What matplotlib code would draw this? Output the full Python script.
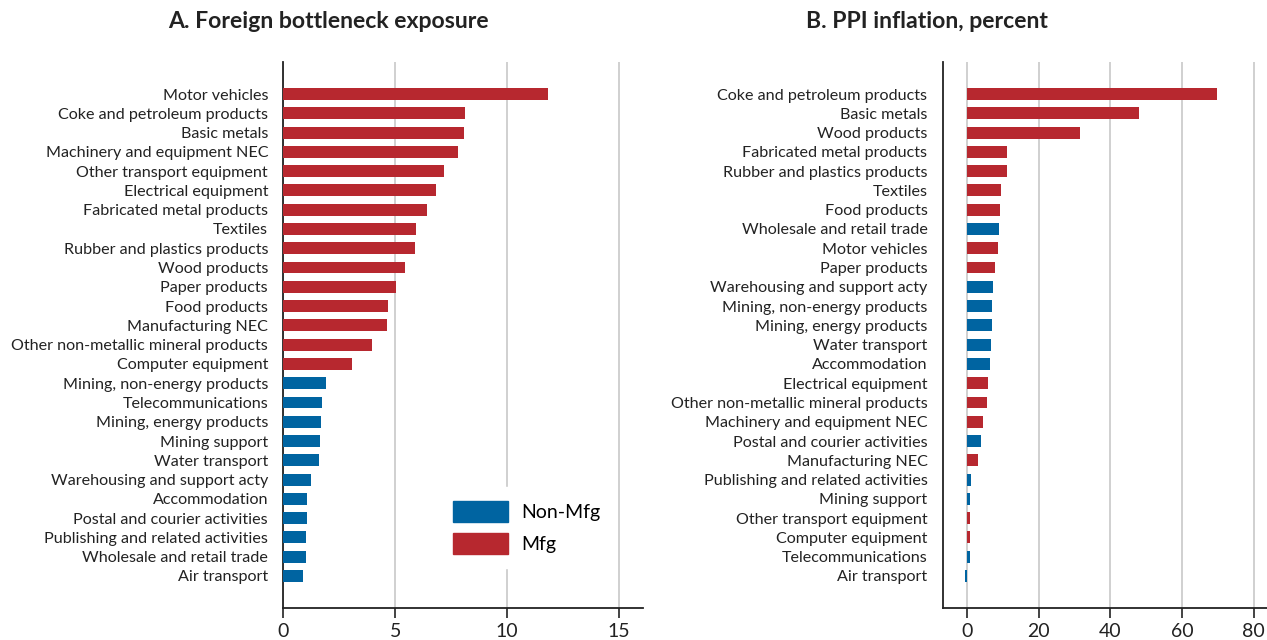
import numpy as np
import matplotlib
matplotlib.use("Agg")
import matplotlib.pyplot as plt
from matplotlib.patches import Patch

plt.rcParams['font.family'] = ['Lato', 'DejaVu Sans']

RED = '#b7282f'
BLUE = '#0064a1'

# Panel A: foreign bottleneck exposure
a_labels = ['Motor vehicles', 'Coke and petroleum products', 'Basic metals',
            'Machinery and equipment NEC', 'Other transport equipment',
            'Electrical equipment', 'Fabricated metal products', 'Textiles',
            'Rubber and plastics products', 'Wood products', 'Paper products',
            'Food products', 'Manufacturing NEC', 'Other non-metallic mineral products',
            'Computer equipment', 'Mining, non-energy products', 'Telecommunications',
            'Mining, energy products', 'Mining support', 'Water transport',
            'Warehousing and support acty', 'Accommodation',
            'Postal and courier activities', 'Publishing and related activities',
            'Wholesale and retail trade', 'Air transport']
a_values = [11.82, 8.11, 8.07, 7.80, 7.17, 6.83, 6.41, 5.92, 5.88, 5.43, 5.03,
            4.67, 4.63, 3.96, 3.07, 1.90, 1.73, 1.68, 1.64, 1.59, 1.24, 1.06,
            1.06, 1.01, 1.01, 0.86]
a_mfg = [1] * 15 + [0] * 11

# Panel B: PPI inflation, percent
b_labels = ['Coke and petroleum products', 'Basic metals', 'Wood products',
            'Fabricated metal products', 'Rubber and plastics products', 'Textiles',
            'Food products', 'Wholesale and retail trade', 'Motor vehicles',
            'Paper products', 'Warehousing and support acty',
            'Mining, non-energy products', 'Mining, energy products',
            'Water transport', 'Accommodation', 'Electrical equipment',
            'Other non-metallic mineral products', 'Machinery and equipment NEC',
            'Postal and courier activities', 'Manufacturing NEC',
            'Publishing and related activities', 'Mining support',
            'Other transport equipment', 'Computer equipment',
            'Telecommunications', 'Air transport']
b_values = [69.8, 48.0, 31.5, 11.2, 11.2, 9.5, 9.2, 8.9, 8.65, 7.8, 7.26, 6.98,
            6.98, 6.7, 6.4, 5.86, 5.58, 4.47, 3.9, 3.07, 1.1, 0.84, 0.84, 0.84,
            0.84, -0.5]
b_mfg = [1, 1, 1, 1, 1, 1, 1, 0, 1, 1, 0, 0, 0, 0, 0, 1, 1, 1, 0, 1, 0, 0, 1, 1, 0, 0]


def draw(ax, labels, values, mfg, xlim, xticks):
    y = np.arange(len(labels))
    colors = [RED if m else BLUE for m in mfg]
    ax.barh(y, values, height=0.62, color=colors, zorder=3)
    ax.set_yticks(y)
    ax.set_yticklabels(labels, fontsize=11.6, color='#222222')
    ax.set_ylim(len(labels) - 1 + 1.66, -1.66)
    ax.set_xlim(*xlim)
    ax.set_xticks(xticks)
    ax.tick_params(axis='y', length=0, pad=11)
    ax.tick_params(axis='x', length=7, width=1.2, labelsize=14, colors='#222222', pad=4)
    ax.grid(axis='x', color='#c8c8c8', linewidth=1.2, zorder=0)
    ax.grid(axis='y', visible=False)
    for s in ['top', 'right']:
        ax.spines[s].set_visible(False)
    for s in ['left', 'bottom']:
        ax.spines[s].set_linewidth(1.3)
        ax.spines[s].set_color('#222222')


fig = plt.figure(figsize=(12.67, 6.4), dpi=100)

ax1 = fig.add_axes([283.3 / 1267, 1 - 608 / 640, (643 - 283.3) / 1267, (608 - 62) / 640])
draw(ax1, a_labels, a_values, a_mfg, (0, 16.06), [0, 5, 10, 15])
leg = ax1.legend(handles=[Patch(color=BLUE, label='Non-Mfg'), Patch(color=RED, label='Mfg')],
                 loc='lower left', bbox_to_anchor=(0.434, 0.074), borderaxespad=0,
                 frameon=True, fontsize=14, handlelength=2.83, handleheight=1.29,
                 labelspacing=0.57, handletextpad=0.7, borderpad=0.7)
leg.get_frame().set_edgecolor('white')
leg.get_frame().set_alpha(1)
leg.set_zorder(5)

ax2 = fig.add_axes([942.7 / 1267, 1 - 608 / 640, (1267 - 942.7) / 1267, (608 - 62) / 640])
draw(ax2, b_labels, b_values, b_mfg, (-6.8, 83.7), [0, 20, 40, 60, 80])

fig.text(328 / 1267, 1 - 22 / 640, 'A. Foreign bottleneck exposure', ha='center', va='center',
         fontsize=16.6, fontweight='bold', color='#222222')
fig.text(927 / 1267, 1 - 22 / 640, 'B. PPI inflation, percent', ha='center', va='center',
         fontsize=16.6, fontweight='bold', color='#222222')

fig.savefig('out.png', dpi=100)
